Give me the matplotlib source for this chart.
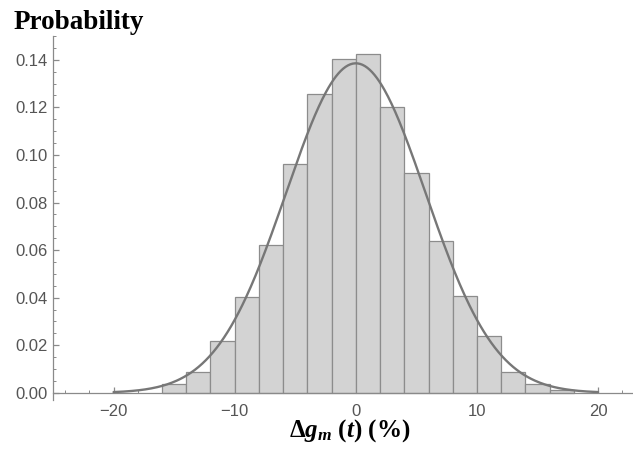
import numpy as np
import matplotlib
matplotlib.use("Agg")
import matplotlib.pyplot as plt
from matplotlib.ticker import MultipleLocator

# histogram: bin edges (%) and probability per bin
bin_left = [-16, -14, -12, -10, -8, -6, -4, -2, 0, 2, 4, 6, 8, 10, 12, 14, 16]
bin_prob = [0.0037, 0.0087, 0.0216, 0.0403, 0.0621, 0.0963, 0.1256, 0.1404,
            0.1423, 0.1201, 0.0923, 0.0639, 0.0406, 0.0238, 0.0087, 0.0039,
            0.0010]
bin_width = 2.0

# fitted normal curve (scaled to bin width), drawn over [-20, 20]
fit_mu = 0.0
fit_sigma = 5.76
fit_range = (-20, 20)

xticks = [-20, -10, 0, 10, 20]
yticks = [0.00, 0.02, 0.04, 0.06, 0.08, 0.10, 0.12, 0.14]

plt.rcParams['font.family'] = ['Liberation Sans', 'DejaVu Sans']
plt.rcParams['mathtext.fontset'] = 'custom'
plt.rcParams['mathtext.rm'] = 'Liberation Serif:bold'
plt.rcParams['mathtext.it'] = 'Liberation Serif:italic:bold'
plt.rcParams['mathtext.bf'] = 'Liberation Serif:bold'

fig = plt.figure(figsize=(6.33, 4.55), dpi=100)
ax = fig.add_axes([53 / 633, 55 / 455, 579 / 633, 364 / 455])

ax.bar(bin_left, bin_prob, width=bin_width, align='edge',
       color='#d3d3d3', edgecolor='#8c8c8c', linewidth=0.9, zorder=2)

xs = np.linspace(fit_range[0], fit_range[1], 400)
ys = bin_width * np.exp(-0.5 * ((xs - fit_mu) / fit_sigma) ** 2) / (fit_sigma * np.sqrt(2 * np.pi))
ax.plot(xs, ys, color='#777777', lw=1.7, zorder=3, solid_capstyle='round')

ax.set_xlim(-25, 22.8)
ax.set_ylim(-0.003, 0.15)

for s in ['top', 'right']:
    ax.spines[s].set_visible(False)
ax.spines['bottom'].set_position(('data', 0))
for s in ['left', 'bottom']:
    ax.spines[s].set_color('#8a8a8a')
    ax.spines[s].set_linewidth(0.9)

ax.set_xticks(xticks)
ax.set_xticklabels([str(t).replace('-', '\u2212') for t in xticks])
ax.set_yticks(yticks)
ax.set_yticklabels(['%.2f' % t for t in yticks])
ax.xaxis.set_minor_locator(MultipleLocator(2))
ax.yaxis.set_minor_locator(MultipleLocator(0.005))
ax.tick_params(which='major', direction='in', length=4, width=0.9,
               color='#8a8a8a', labelcolor='#555555', labelsize=12)
ax.tick_params(which='minor', direction='in', length=2, width=0.7,
               color='#8a8a8a')
ax.tick_params(axis='x', pad=8)
ax.tick_params(axis='y', pad=4)

fig.text(14 / 633, 1 - 29 / 455, 'Probability', family='Liberation Serif',
         fontweight='bold', fontsize=19.5, ha='left', va='baseline')
fig.text(350 / 633, 18 / 455, r'$\Delta g_m\ (t)\ (\%)$', fontsize=18,
         ha='center', va='baseline')

fig.savefig('out.png', dpi=100)
